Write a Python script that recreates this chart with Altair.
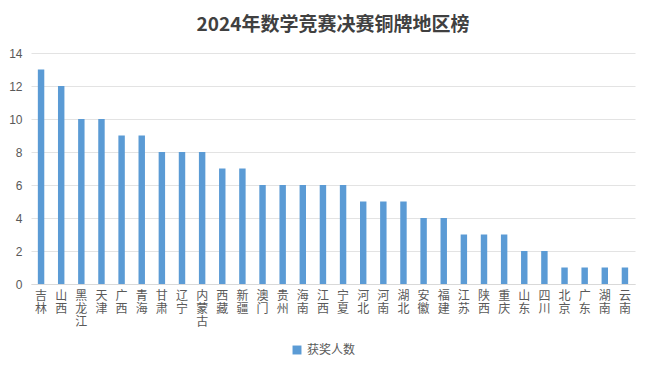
import altair as alt
import pandas as pd

regions = ["吉林", "山西", "黑龙江", "天津", "广西", "青海", "甘肃", "辽宁", "内蒙古", "西藏",
           "新疆", "澳门", "贵州", "海南", "江西", "宁夏", "河北", "河南", "湖北", "安徽",
           "福建", "江苏", "陕西", "重庆", "山东", "四川", "北京", "广东", "湖南", "云南"]
counts = [13, 12, 10, 10, 9, 9, 8, 8, 8, 7,
          7, 6, 6, 6, 6, 6, 5, 5, 5, 4,
          4, 3, 3, 3, 2, 2, 1, 1, 1, 1]
series_name = "获奖人数"
y_ticks = [0, 2, 4, 6, 8, 10, 12, 14]

df = pd.DataFrame({"region": regions, "count": counts, "series": series_name})

font = "Noto Sans CJK SC"

chart = alt.Chart(df).mark_bar(color="#5b9bd5").encode(
    x=alt.X("region:N", sort=regions, title=None,
            scale=alt.Scale(paddingInner=0.68, paddingOuter=0.34),
            axis=alt.Axis(labelAngle=0, labelExpr="split(datum.label, '')",
                          labelBaseline="top", labelLineHeight=13, labelFontSize=12,
                          labelColor="#595959", labelFont=font, ticks=False,
                          domainColor="#d9d9d9", labelPadding=6)),
    y=alt.Y("count:Q", title=None,
            scale=alt.Scale(domain=[0, 14]),
            axis=alt.Axis(values=y_ticks, grid=True, gridColor="#e3e3e3", domain=False,
                          ticks=False, labelColor="#595959", labelFontSize=12,
                          labelFont="Liberation Sans", labelPadding=9)),
    color=alt.Color("series:N", scale=alt.Scale(range=["#5b9bd5"]),
                    legend=alt.Legend(title=None, orient="none", legendX=260, legendY=291,
                                      symbolType="square", symbolSize=80,
                                      labelFontSize=12, labelColor="#595959", labelFont=font)),
).properties(
    width=604, height=231,
    autosize=alt.AutoSizeParams(type="none"),
    padding={"left": 23, "top": 45, "right": 8, "bottom": 78},
    title=alt.TitleParams("2024年数学竞赛决赛铜牌地区榜", fontSize=19, fontWeight="bold",
                          color="#404040", font=font, offset=12, anchor="middle"),
).configure_view(stroke=None)

chart.save("out.html", embed_options={"renderer": "svg", "actions": False})
